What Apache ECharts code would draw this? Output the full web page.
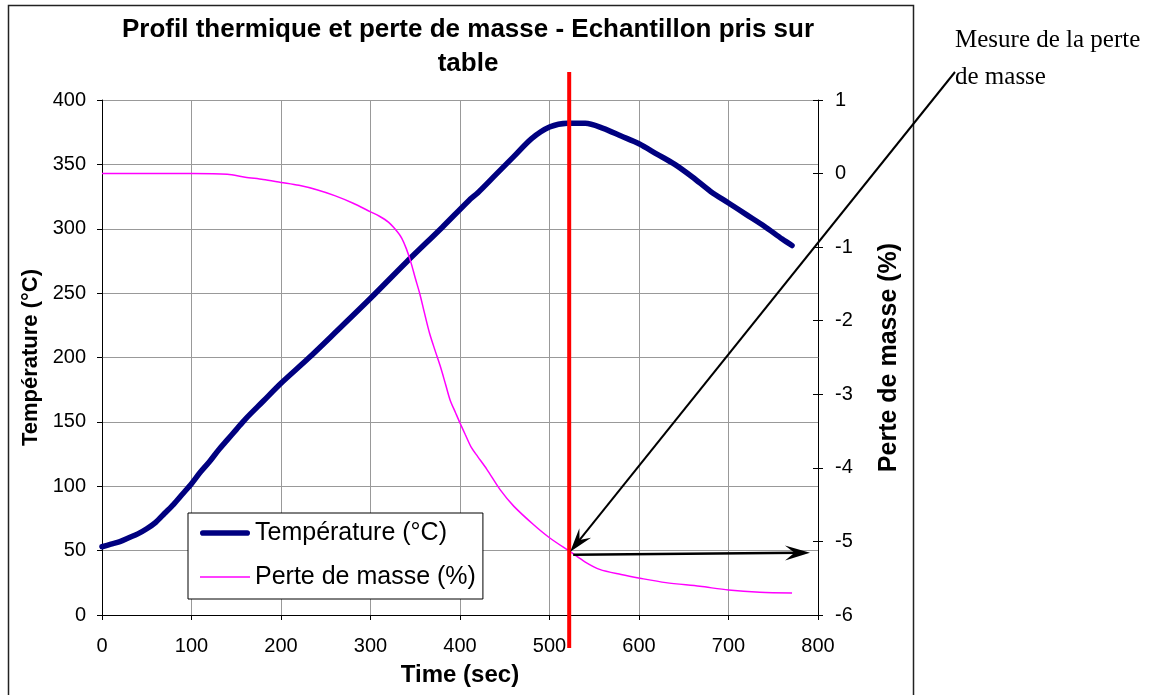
<!DOCTYPE html>
<html>
<head>
<meta charset="utf-8">
<script src="https://cdn.jsdelivr.net/npm/echarts@6/dist/echarts.min.js"></script>
<style>
html,body{margin:0;padding:0;background:#fff;}
#chart{width:1164px;height:695px;}
</style>
</head>
<body>
<div id="chart"></div>
<script>
// ---- data ----
const titleText = 'Profil thermique et perte de masse - Echantillon pris sur\ntable';
const seriesNames = ['Température (°C)', 'Perte de masse (%)'];
const tempTime   = [0, 10, 20, 30, 40, 50, 60, 70, 80, 90, 100, 110, 120, 130, 140, 150, 160, 180, 200, 230, 260, 300, 340, 380, 410, 420, 440, 460, 480, 500, 520, 540, 560, 580, 600, 620, 640, 660, 680, 700, 720, 740, 760, 771];
const tempValues = [53, 55, 57, 60, 63, 67, 72, 79, 86, 94, 102, 111, 119, 128, 136, 144, 152, 166, 180, 199, 219, 246, 274, 301, 322, 328, 342, 356, 370, 379, 382, 382, 378, 372, 366, 358, 350, 340, 329, 320, 311, 302, 292, 287];
const massTime   = [0, 50, 100, 140, 160, 180, 200, 220, 240, 260, 280, 300, 310, 320, 330, 335, 340, 345, 350, 355, 360, 366, 372, 378, 384, 389, 395, 400, 406, 413, 420, 430, 445, 460, 482, 500, 523, 540, 556, 580, 601, 630, 668, 700, 735, 771];
const massValues = [0, 0, 0, -0.01, -0.05, -0.08, -0.12, -0.16, -0.22, -0.30, -0.40, -0.52, -0.58, -0.66, -0.79, -0.88, -1.02, -1.20, -1.42, -1.63, -1.88, -2.17, -2.40, -2.62, -2.87, -3.08, -3.25, -3.39, -3.55, -3.73, -3.85, -4.02, -4.30, -4.52, -4.77, -4.95, -5.14, -5.28, -5.38, -5.45, -5.50, -5.56, -5.61, -5.66, -5.69, -5.70];
const markerTime = 522;     // red vertical line
const markerMass = -5.14;   // measured mass loss at the marker
const annotationText = 'Mesure de la perte\nde masse';

const FONT = '"Liberation Sans", Arial, sans-serif';
const SERIF = '"Liberation Serif", "Times New Roman", serif';

const chart = echarts.init(document.getElementById('chart'), null, {renderer: 'canvas'});

const tempData = tempTime.map((t, i) => [t, tempValues[i]]);
const massData = massTime.map((t, i) => [t, massValues[i]]);

const option = {
  animation: false,
  backgroundColor: '#ffffff',
  textStyle: {fontFamily: FONT},
  title: {
    text: titleText,
    left: 463,
    top: 8,
    textAlign: 'center',
    textStyle: {fontFamily: FONT, fontSize: 26, fontWeight: 'bold', color: '#000', lineHeight: 34}
  },
  grid: {left: 102, right: 346, top: 100, bottom: 80, containLabel: false},
  legend: {
    data: [
      {name: seriesNames[0], icon: 'path://M3,0 H97 A6,6 0 0 1 97,12 H3 A6,6 0 0 1 3,0 Z'},
      {name: seriesNames[1], icon: 'path://M0,0 H100 V3 H0 Z'}
    ],
    orient: 'vertical',
    left: 188,
    top: 513,
    padding: [5, 7, 7, 12],
    itemGap: 14,
    itemWidth: 50,
    itemHeight: 14,
    symbolKeepAspect: true,
    backgroundColor: '#ffffff',
    borderColor: '#000000',
    borderWidth: 1,
    borderRadius: 0,
    textStyle: {fontFamily: FONT, fontSize: 25, color: '#000', lineHeight: 30}
  },
  xAxis: {
    type: 'value',
    min: 0, max: 800, interval: 100,
    name: 'Time (sec)',
    nameLocation: 'middle',
    nameGap: 48,
    nameTextStyle: {fontFamily: FONT, fontSize: 24, fontWeight: 'bold', color: '#000'},
    axisLine: {show: true, onZero: false, lineStyle: {color: '#000', width: 1}},
    axisTick: {show: true, length: 5, lineStyle: {color: '#000'}},
    axisLabel: {fontFamily: FONT, fontSize: 20, color: '#000', margin: 21},
    splitLine: {show: true, lineStyle: {color: '#999999', width: 1}}
  },
  yAxis: [
    {
      type: 'value',
      position: 'left',
      min: 0, max: 400, interval: 50,
      name: 'Température (°C)',
      nameLocation: 'middle',
      nameRotate: 90,
      nameGap: 60,
      nameTextStyle: {fontFamily: FONT, fontSize: 22, fontWeight: 'bold', color: '#000'},
      axisLine: {show: true, lineStyle: {color: '#000', width: 1}},
      axisTick: {show: true, length: 5, lineStyle: {color: '#000'}},
      axisLabel: {fontFamily: FONT, fontSize: 20, color: '#000', margin: 16},
      splitLine: {show: true, lineStyle: {color: '#999999', width: 1}}
    },
    {
      type: 'value',
      position: 'right',
      min: -6, max: 1, interval: 1,
      name: 'Perte de masse (%)',
      nameLocation: 'middle',
      nameRotate: 90,
      nameGap: 59,
      nameTextStyle: {fontFamily: FONT, fontSize: 25, fontWeight: 'bold', color: '#000'},
      axisLine: {show: true, lineStyle: {color: '#000', width: 1}},
      axisTick: {show: true, length: 5, lineStyle: {color: '#000'}},
      axisLabel: {fontFamily: FONT, fontSize: 20, color: '#000', margin: 17},
      splitLine: {show: false}
    },
    {
      // inner half of the crossing ticks on the right axis
      type: 'value',
      position: 'right',
      min: -6, max: 1, interval: 1,
      axisLine: {show: false},
      axisTick: {show: true, inside: true, length: 5, lineStyle: {color: '#000'}},
      axisLabel: {show: false},
      splitLine: {show: false}
    }
  ],
  series: [
    {
      name: seriesNames[0],
      type: 'line',
      yAxisIndex: 0,
      data: tempData,
      smooth: 0.3,
      symbol: 'none',
      lineStyle: {color: '#000080', width: 5.5, cap: 'round', join: 'round'},
      itemStyle: {color: '#000080'},
      z: 2
    },
    {
      name: seriesNames[1],
      type: 'line',
      yAxisIndex: 1,
      data: massData,
      smooth: 0.3,
      symbol: 'none',
      lineStyle: {color: '#FF00FF', width: 1.5},
      itemStyle: {color: '#FF00FF'},
      z: 3
    }
  ]
};
chart.setOption(option);

// ---- annotations (red marker line, arrows, outer frame, side text) ----
function arrowHead(tip, from, len, halfW) {
  const dx = tip[0] - from[0], dy = tip[1] - from[1];
  const d = Math.sqrt(dx * dx + dy * dy);
  const ux = dx / d, uy = dy / d;
  const px = -uy, py = ux;
  const bx = tip[0] - ux * len, by = tip[1] - uy * len;
  const nx = tip[0] - ux * len * 0.62, ny = tip[1] - uy * len * 0.62;
  return [tip, [bx + px * halfW, by + py * halfW], [nx, ny], [bx - px * halfW, by - py * halfW]];
}

const gridTop = chart.convertToPixel({yAxisIndex: 0}, 400);
const gridBottom = chart.convertToPixel({yAxisIndex: 0}, 0);
const redX = chart.convertToPixel({xAxisIndex: 0}, markerTime);
const pt = chart.convertToPixel({seriesIndex: 1}, [markerTime, markerMass]);
const rightEdge = chart.convertToPixel({xAxisIndex: 0}, 800);

const diagStart = [955, 72];
const diagTip = [pt[0] + 1, pt[1]];
const hStart = [pt[0] + 4, pt[1] + 3];
const hTip = [rightEdge - 8, pt[1] + 1];

chart.setOption({
  graphic: [
    {
      type: 'rect', silent: true, z: 0, zlevel: 0,
      shape: {x: 8.5, y: 5.5, width: 905, height: 700},
      style: {fill: null, stroke: '#222', lineWidth: 1.5}
    },
    {
      type: 'line', silent: true, z: 100,
      shape: {x1: redX, y1: gridTop - 28, x2: redX, y2: gridBottom + 33},
      style: {stroke: '#FF0000', lineWidth: 4}
    },
    {
      type: 'line', silent: true, z: 101,
      shape: {x1: diagStart[0], y1: diagStart[1], x2: diagTip[0] + 8, y2: diagTip[1] - 10},
      style: {stroke: '#000', lineWidth: 2}
    },
    {
      type: 'polygon', silent: true, z: 101,
      shape: {points: arrowHead(diagTip, diagStart, 24, 7.5)},
      style: {fill: '#000'}
    },
    {
      type: 'line', silent: true, z: 101,
      shape: {x1: hStart[0], y1: hStart[1], x2: hTip[0] - 10, y2: hTip[1]},
      style: {stroke: '#000', lineWidth: 2.5}
    },
    {
      type: 'polygon', silent: true, z: 101,
      shape: {points: arrowHead(hTip, hStart, 25, 7.5)},
      style: {fill: '#000'}
    },
    {
      type: 'text', silent: true, z: 101,
      x: 955, y: 22,
      style: {text: annotationText, font: '25px ' + SERIF, fill: '#000', lineHeight: 37, textAlign: 'left', textVerticalAlign: 'top'}
    }
  ]
});
</script>
</body>
</html>
